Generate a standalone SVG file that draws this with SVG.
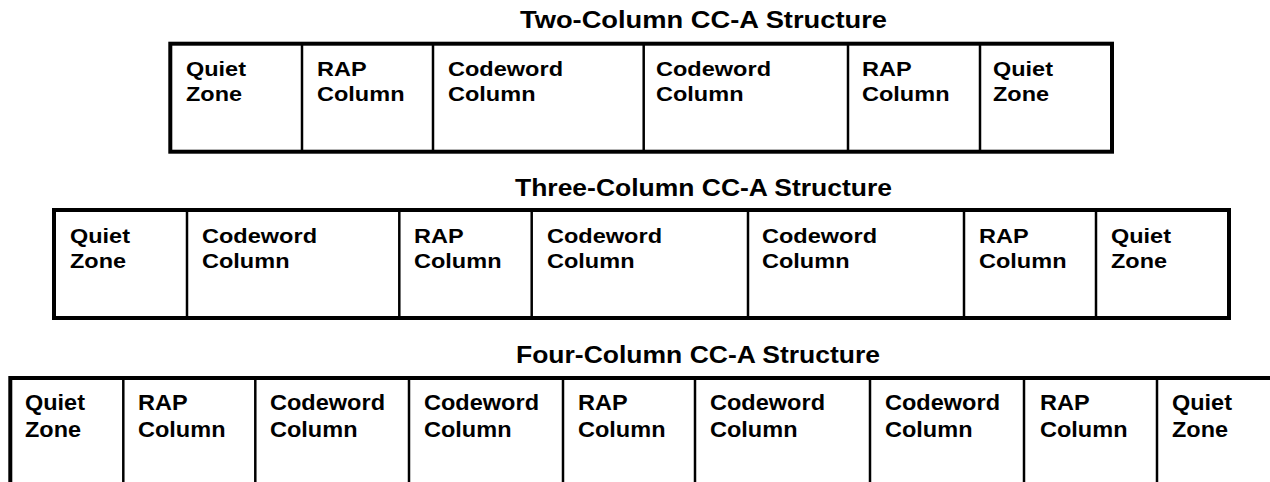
<svg xmlns="http://www.w3.org/2000/svg" width="1270" height="482" viewBox="0 0 1270 482">
<style>
  text { font-family: "Liberation Sans", Arial, sans-serif; font-weight: bold; fill: #000; }
  .t { font-size: 23.3px; }
  .c { font-size: 20.5px; }
  .c3 { font-size: 22.5px; }
  .box { fill: none; stroke: #000; stroke-width: 4; }
  .div { stroke: #000; stroke-width: 2.5; fill: none; }
</style>
<rect width="1270" height="482" fill="#fff"/>

<g id="two-column">
  <text class="t" x="520" y="27.5" textLength="367" lengthAdjust="spacingAndGlyphs">Two-Column CC-A Structure</text>
  <rect class="box" x="170.3" y="43.7" width="941.7" height="108"/>
  <g class="div">
    <line x1="302" y1="43.7" x2="302" y2="151.7"/>
    <line x1="433" y1="43.7" x2="433" y2="151.7"/>
    <line x1="643.7" y1="43.7" x2="643.7" y2="151.7"/>
    <line x1="848" y1="43.7" x2="848" y2="151.7"/>
    <line x1="980" y1="43.7" x2="980" y2="151.7"/>
  </g>
  <g id="r1c1"><text class="c" x="186" y="76" textLength="60" lengthAdjust="spacingAndGlyphs">Quiet</text><text class="c" x="186" y="101" textLength="56" lengthAdjust="spacingAndGlyphs">Zone</text></g>
  <g id="r1c2"><text class="c" x="317" y="76" textLength="49.6" lengthAdjust="spacingAndGlyphs">RAP</text><text class="c" x="317" y="101" textLength="87.5" lengthAdjust="spacingAndGlyphs">Column</text></g>
  <g id="r1c3"><text class="c" x="448" y="76" textLength="115" lengthAdjust="spacingAndGlyphs">Codeword</text><text class="c" x="448" y="101" textLength="87.5" lengthAdjust="spacingAndGlyphs">Column</text></g>
  <g id="r1c4"><text class="c" x="656" y="76" textLength="115" lengthAdjust="spacingAndGlyphs">Codeword</text><text class="c" x="656" y="101" textLength="87.5" lengthAdjust="spacingAndGlyphs">Column</text></g>
  <g id="r1c5"><text class="c" x="862" y="76" textLength="49.6" lengthAdjust="spacingAndGlyphs">RAP</text><text class="c" x="862" y="101" textLength="87.5" lengthAdjust="spacingAndGlyphs">Column</text></g>
  <g id="r1c6"><text class="c" x="993" y="76" textLength="60" lengthAdjust="spacingAndGlyphs">Quiet</text><text class="c" x="993" y="101" textLength="56" lengthAdjust="spacingAndGlyphs">Zone</text></g>
</g>

<g id="three-column">
  <text class="t" x="515" y="196" textLength="377" lengthAdjust="spacingAndGlyphs">Three-Column CC-A Structure</text>
  <rect class="box" x="54" y="210" width="1175" height="108"/>
  <g class="div">
    <line x1="187" y1="210" x2="187" y2="318"/>
    <line x1="399.3" y1="210" x2="399.3" y2="318"/>
    <line x1="531.7" y1="210" x2="531.7" y2="318"/>
    <line x1="748" y1="210" x2="748" y2="318"/>
    <line x1="964" y1="210" x2="964" y2="318"/>
    <line x1="1096" y1="210" x2="1096" y2="318"/>
  </g>
  <g id="r2c1"><text class="c" x="70" y="242.5" textLength="60" lengthAdjust="spacingAndGlyphs">Quiet</text><text class="c" x="70" y="267.5" textLength="56" lengthAdjust="spacingAndGlyphs">Zone</text></g>
  <g id="r2c2"><text class="c" x="202" y="242.5" textLength="115" lengthAdjust="spacingAndGlyphs">Codeword</text><text class="c" x="202" y="267.5" textLength="87.5" lengthAdjust="spacingAndGlyphs">Column</text></g>
  <g id="r2c3"><text class="c" x="414" y="242.5" textLength="49.6" lengthAdjust="spacingAndGlyphs">RAP</text><text class="c" x="414" y="267.5" textLength="87.5" lengthAdjust="spacingAndGlyphs">Column</text></g>
  <g id="r2c4"><text class="c" x="547" y="242.5" textLength="115" lengthAdjust="spacingAndGlyphs">Codeword</text><text class="c" x="547" y="267.5" textLength="87.5" lengthAdjust="spacingAndGlyphs">Column</text></g>
  <g id="r2c5"><text class="c" x="762" y="242.5" textLength="115" lengthAdjust="spacingAndGlyphs">Codeword</text><text class="c" x="762" y="267.5" textLength="87.5" lengthAdjust="spacingAndGlyphs">Column</text></g>
  <g id="r2c6"><text class="c" x="979" y="242.5" textLength="49.6" lengthAdjust="spacingAndGlyphs">RAP</text><text class="c" x="979" y="267.5" textLength="87.5" lengthAdjust="spacingAndGlyphs">Column</text></g>
  <g id="r2c7"><text class="c" x="1111" y="242.5" textLength="60" lengthAdjust="spacingAndGlyphs">Quiet</text><text class="c" x="1111" y="267.5" textLength="56" lengthAdjust="spacingAndGlyphs">Zone</text></g>
</g>

<g id="four-column">
  <text class="t" x="516" y="363" textLength="364" lengthAdjust="spacingAndGlyphs" style="font-size:24px">Four-Column CC-A Structure</text>
  <path class="box" d="M10.3,490 V378 H1272 V490"/>
  <g class="div">
    <line x1="123.3" y1="378" x2="123.3" y2="490"/>
    <line x1="255.3" y1="378" x2="255.3" y2="490"/>
    <line x1="409" y1="378" x2="409" y2="490"/>
    <line x1="563" y1="378" x2="563" y2="490"/>
    <line x1="695" y1="378" x2="695" y2="490"/>
    <line x1="870" y1="378" x2="870" y2="490"/>
    <line x1="1024" y1="378" x2="1024" y2="490"/>
    <line x1="1157" y1="378" x2="1157" y2="490"/>
  </g>
  <g id="r3c1"><text class="c3" x="25" y="410" textLength="60" lengthAdjust="spacingAndGlyphs">Quiet</text><text class="c3" x="25" y="437" textLength="56" lengthAdjust="spacingAndGlyphs">Zone</text></g>
  <g id="r3c2"><text class="c3" x="138" y="410" textLength="49.6" lengthAdjust="spacingAndGlyphs">RAP</text><text class="c3" x="138" y="437" textLength="87.5" lengthAdjust="spacingAndGlyphs">Column</text></g>
  <g id="r3c3"><text class="c3" x="270" y="410" textLength="115" lengthAdjust="spacingAndGlyphs">Codeword</text><text class="c3" x="270" y="437" textLength="87.5" lengthAdjust="spacingAndGlyphs">Column</text></g>
  <g id="r3c4"><text class="c3" x="424" y="410" textLength="115" lengthAdjust="spacingAndGlyphs">Codeword</text><text class="c3" x="424" y="437" textLength="87.5" lengthAdjust="spacingAndGlyphs">Column</text></g>
  <g id="r3c5"><text class="c3" x="578" y="410" textLength="49.6" lengthAdjust="spacingAndGlyphs">RAP</text><text class="c3" x="578" y="437" textLength="87.5" lengthAdjust="spacingAndGlyphs">Column</text></g>
  <g id="r3c6"><text class="c3" x="710" y="410" textLength="115" lengthAdjust="spacingAndGlyphs">Codeword</text><text class="c3" x="710" y="437" textLength="87.5" lengthAdjust="spacingAndGlyphs">Column</text></g>
  <g id="r3c7"><text class="c3" x="885" y="410" textLength="115" lengthAdjust="spacingAndGlyphs">Codeword</text><text class="c3" x="885" y="437" textLength="87.5" lengthAdjust="spacingAndGlyphs">Column</text></g>
  <g id="r3c8"><text class="c3" x="1040" y="410" textLength="49.6" lengthAdjust="spacingAndGlyphs">RAP</text><text class="c3" x="1040" y="437" textLength="87.5" lengthAdjust="spacingAndGlyphs">Column</text></g>
  <g id="r3c9"><text class="c3" x="1172" y="410" textLength="60" lengthAdjust="spacingAndGlyphs">Quiet</text><text class="c3" x="1172" y="437" textLength="56" lengthAdjust="spacingAndGlyphs">Zone</text></g>
</g>
</svg>
